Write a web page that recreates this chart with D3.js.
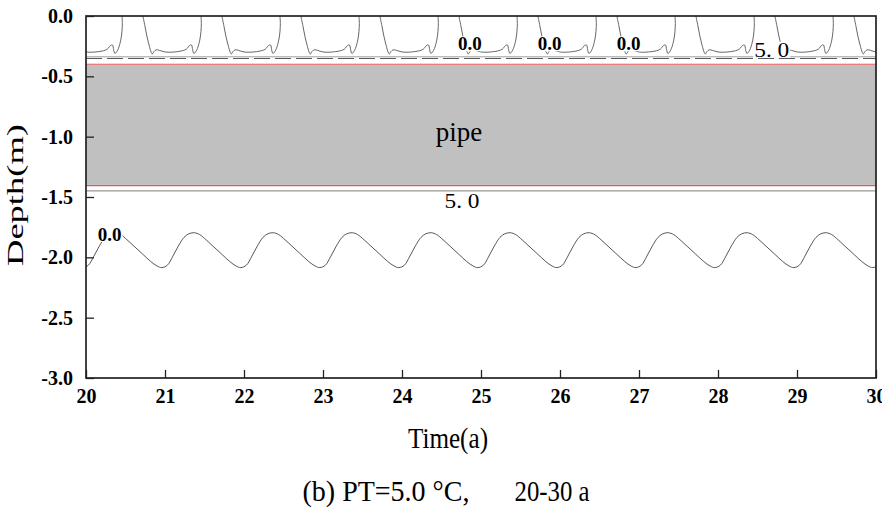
<!DOCTYPE html>
<html>
<head>
<meta charset="utf-8">
<script src="https://cdn.jsdelivr.net/npm/d3@7"></script>
<style>
  html, body { margin: 0; padding: 0; background: #fff; }
  svg { display: block; }
  text { font-family: "Liberation Serif", "Times New Roman", serif; }
</style>
</head>
<body>
<svg id="chart" width="882" height="513"></svg>
<script>
// ---------- data ----------
const xTicks = [20, 21, 22, 23, 24, 25, 26, 27, 28, 29, 30];
const yTicks = [0, -0.5, -1.0, -1.5, -2.0, -2.5, -3.0];

// pipe (depth range, m)
const pipeTop = -0.405;
const pipeBottom = -1.40;
const pipeRedLines = [-0.40, -1.405];

// 5.0 degC contours (near-horizontal) around the pipe
const contour5Top = { dark: -0.352, gray: -0.338 };
const contour5Bottom = -1.45;

// 0.0 degC contour near surface: one seasonal "U" per year (phase offset from year, depth)
const topUYears = [19, 20, 21, 22, 23, 24, 25, 26, 27, 28, 29];
const topUPhase = [0.72, 0.745, 0.77, 0.80, 0.825, 0.84, 0.86, 0.89, 0.93, 1.00, 1.08, 1.16, 1.22, 1.27, 1.31, 1.335, 1.35, 1.365, 1.385, 1.41, 1.44, 1.455, 1.46, 1.455];
const topUDepth = [0.0, -0.08, -0.165, -0.245, -0.30, -0.315, -0.295, -0.28, -0.285, -0.298, -0.30, -0.295, -0.288, -0.275, -0.245, -0.24, -0.28, -0.31, -0.30, -0.27, -0.20, -0.13, -0.06, 0.0];

// 0.0 degC contour below the pipe: seasonal wave (phase offset from year, depth)
const waveYears = [19, 20, 21, 22, 23, 24, 25, 26, 27, 28, 29, 30];
const wavePhase = [-0.04, 0.03, 0.10, 0.17, 0.24, 0.30, 0.37, 0.44, 0.52, 0.62, 0.72, 0.82, 0.90];
const waveDepth = [-2.085, -2.065, -1.99, -1.905, -1.835, -1.805, -1.796, -1.812, -1.855, -1.915, -1.975, -2.035, -2.072];

// contour labels
const labels = [
  { text: "0.0", t: 24.86, d: -0.23, bold: true, size: 19 },
  { text: "0.0", t: 25.87, d: -0.23, bold: true, size: 19 },
  { text: "0.0", t: 26.87, d: -0.23, bold: true, size: 19 },
  { text: "5. 0", t: 28.68, d: -0.28, bold: false, size: 20, len: 35 },
  { text: "pipe", t: 24.72, d: -0.96, bold: false, size: 27, noBg: true },
  { text: "5. 0", t: 24.76, d: -1.535, bold: false, size: 20, len: 35 },
  { text: "0.0", t: 20.30, d: -1.81, bold: true, size: 19 }
];

// ---------- drawing ----------
const svg = d3.select("#chart");
const X0 = 86, X1 = 876, Y0 = 16, Y1 = 378;
const x = d3.scaleLinear().domain([20, 30]).range([X0, X1]);
const y = d3.scaleLinear().domain([0, -3]).range([Y0, Y1]);

svg.append("defs").append("clipPath").attr("id", "plotClip")
  .append("rect").attr("x", X0).attr("y", Y0).attr("width", X1 - X0).attr("height", Y1 - Y0);

const plot = svg.append("g").attr("clip-path", "url(#plotClip)");

// pipe
plot.append("rect")
  .attr("x", x(20)).attr("width", x(30) - x(20))
  .attr("y", y(pipeTop)).attr("height", y(pipeBottom) - y(pipeTop))
  .attr("fill", "#c0c0c0");
plot.selectAll(".redline").data(pipeRedLines).enter().append("line")
  .attr("x1", x(20)).attr("x2", x(30))
  .attr("y1", d => y(d)).attr("y2", d => y(d))
  .attr("stroke", "#e8555a").attr("stroke-width", 1.2);

// 5.0 contours
plot.append("line").attr("x1", x(20)).attr("x2", x(30))
  .attr("y1", y(contour5Top.gray)).attr("y2", y(contour5Top.gray))
  .attr("stroke", "#a0a0a0").attr("stroke-width", 1);
plot.append("line").attr("x1", x(20)).attr("x2", x(30))
  .attr("y1", y(contour5Top.dark)).attr("y2", y(contour5Top.dark))
  .attr("stroke", "#444").attr("stroke-width", 0.9).attr("stroke-dasharray", "16,5");
plot.append("line").attr("x1", x(20)).attr("x2", x(30))
  .attr("y1", y(contour5Bottom)).attr("y2", y(contour5Bottom))
  .attr("stroke", "#999").attr("stroke-width", 1.3);

// top 0.0 contours
const line = d3.line().x(p => x(p[0])).y(p => y(p[1])).curve(d3.curveCatmullRom.alpha(0.5));
topUYears.forEach(yr => {
  const pts = topUPhase.map((ph, i) => [yr + ph, topUDepth[i]]);
  plot.append("path").attr("d", line(pts))
    .attr("fill", "none").attr("stroke", "#555").attr("stroke-width", 0.9);
});

// bottom wave
const wavePts = [];
waveYears.forEach(yr => wavePhase.forEach((ph, i) => wavePts.push([yr + ph, waveDepth[i]])));
plot.append("path").attr("d", line(wavePts))
  .attr("fill", "none").attr("stroke", "#444").attr("stroke-width", 0.9);

// labels
labels.forEach(l => {
  const g = svg.append("g");
  const t = g.append("text")
    .attr("x", x(l.t)).attr("y", y(l.d))
    .attr("text-anchor", "middle").attr("dominant-baseline", "central")
    .attr("font-size", l.size).attr("font-weight", l.bold ? "bold" : "normal")
    .attr("fill", "#000").text(l.text);
  if (l.len) t.attr("textLength", l.len).attr("lengthAdjust", "spacingAndGlyphs");
  if (!l.noBg) {
    const bb = t.node().getBBox();
    g.insert("rect", "text")
      .attr("x", bb.x - 1).attr("y", bb.y + 3).attr("width", bb.width + 2).attr("height", bb.height - 6)
      .attr("fill", "#fff");
  }
});

// axes
const xAxis = d3.axisBottom(x).tickValues(xTicks).tickSize(-8).tickPadding(11).tickFormat(d3.format("d"));
const gx = svg.append("g").attr("transform", `translate(0,${Y1})`).call(xAxis);
gx.select(".domain").remove();
gx.selectAll(".tick line").attr("stroke", "#222").attr("stroke-width", 1.3);
gx.selectAll(".tick text").attr("font-size", 20).attr("font-weight", "bold")
  .attr("font-family", "Liberation Serif, serif").attr("fill", "#000");

const yAxis = d3.axisLeft(y).tickValues(yTicks).tickSize(-8).tickPadding(13).tickFormat(d3.format(".1f"));
const gy = svg.append("g").attr("transform", `translate(${X0},0)`).call(yAxis);
gy.select(".domain").remove();
gy.selectAll(".tick line").attr("stroke", "#222").attr("stroke-width", 1.3);
gy.selectAll(".tick text").attr("font-size", 20).attr("font-weight", "bold")
  .attr("font-family", "Liberation Serif, serif").attr("fill", "#000")
  .text(d => d3.format(".1f")(d).replace("\u2212", "-"));

// frame
svg.append("rect").attr("x", X0).attr("y", Y0).attr("width", X1 - X0).attr("height", Y1 - Y0)
  .attr("fill", "none").attr("stroke", "#222").attr("stroke-width", 1.7);

// titles
svg.append("text").attr("x", 448).attr("y", 448).attr("text-anchor", "middle")
  .attr("font-size", 29).attr("fill", "#000")
  .attr("textLength", 80).attr("lengthAdjust", "spacingAndGlyphs").text("Time(a)");
svg.append("text").attr("transform", "translate(23,195) rotate(-90)").attr("text-anchor", "middle")
  .attr("font-size", 24).attr("fill", "#000")
  .attr("textLength", 142).attr("lengthAdjust", "spacingAndGlyphs").text("Depth(m)");
svg.append("text").attr("x", 386).attr("y", 501).attr("text-anchor", "middle")
  .attr("font-size", 29).attr("fill", "#000")
  .attr("textLength", 167).attr("lengthAdjust", "spacingAndGlyphs").text("(b) PT=5.0 \u00B0C,");
svg.append("text").attr("x", 552).attr("y", 501).attr("text-anchor", "middle")
  .attr("font-size", 29).attr("fill", "#000")
  .attr("textLength", 75).attr("lengthAdjust", "spacingAndGlyphs").text("20-30 a");
</script>
</body>
</html>
